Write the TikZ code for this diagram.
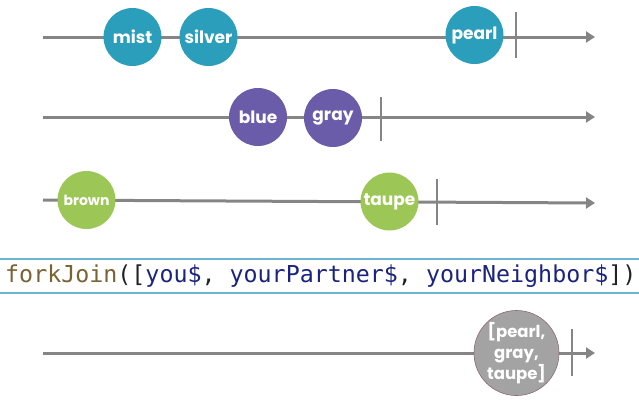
\documentclass[tikz,border=0pt]{standalone}
\usepackage{fontspec}
\setmainfont{Poppins}
\newfontfamily\codefont{DejaVu Sans Mono}
\usetikzlibrary{arrows.meta}
\definecolor{linegray}{HTML}{858585}
\definecolor{mteal}{HTML}{2A9EBB}
\definecolor{mpurple}{HTML}{6A5CA8}
\definecolor{mgreen}{HTML}{9CC655}
\definecolor{mgray}{HTML}{A3A3A3}
\definecolor{mgrayedge}{HTML}{8A6A70}
\definecolor{codeblue}{HTML}{6DB3D3}
\definecolor{fnbrown}{HTML}{7A6232}
\definecolor{argnavy}{HTML}{1A237E}
\definecolor{punct}{HTML}{222222}
\tikzset{
  timeline/.style={draw=linegray, line width=3pt, -{Triangle[length=9pt,width=11pt]}},
  tickmark/.style={draw=linegray, line width=2pt},
  marble/.style={circle, minimum size=58pt, inner sep=0pt, text=white,
    font=\bfseries\fontsize{17}{20}\selectfont},
  rule/.style={draw=codeblue, line width=1.5pt},
}
\begin{document}
\begin{tikzpicture}[x=1pt,y=-1pt]
\useasboundingbox (0,0) rectangle (639,402);
% row 1
\coordinate (s1) at (43,37);
\coordinate (e1) at (595,37);
\draw[timeline] (s1) -- (e1);
\coordinate (t1a) at (516,12);
\coordinate (t1b) at (516,58);
\draw[tickmark] (t1a) -- (t1b);
\node[marble, fill=mteal] (mist) at (132.5,37) {mist};
\node[marble, fill=mteal] (silver) at (208.5,37) {silver};
\node[marble, fill=mteal] (pearl) at (474.5,35) {pearl};
% row 2
\coordinate (s2) at (43,117);
\coordinate (e2) at (595,117);
\draw[timeline] (s2) -- (e2);
\coordinate (t2a) at (381,97);
\coordinate (t2b) at (381,141);
\draw[tickmark] (t2a) -- (t2b);
\node[marble, fill=mpurple] (blue) at (258,117) {blue};
\node[marble, fill=mpurple] (gray) at (333,118) {gray};
% row 3
\coordinate (s3) at (43,200);
\coordinate (e3) at (595,203);
\draw[timeline] (s3) -- (e3);
\coordinate (t3a) at (437,179);
\coordinate (t3b) at (437,225);
\draw[tickmark] (t3a) -- (t3b);
\node[marble, fill=mgreen, font=\bfseries\fontsize{14}{16}\selectfont] (brown) at (86.5,200) {brown};
\node[marble, fill=mgreen] (taupe) at (389.5,201.5) {taupe};
% code line
\coordinate (r1a) at (0,259);
\coordinate (r1b) at (639,259);
\coordinate (r2a) at (0,293);
\coordinate (r2b) at (639,293);
\draw[rule] (r1a) -- (r1b);
\draw[rule] (r2a) -- (r2b);
\node[anchor=west, inner sep=0pt, font=\codefont\fontsize{23.3}{26}\selectfont] (code) at (5,276)
  {\textcolor{fnbrown}{forkJoin}\textcolor{punct}{([}\textcolor{argnavy}{you\$}\textcolor{punct}{, }\textcolor{argnavy}{yourPartner\$}\textcolor{punct}{, }\textcolor{argnavy}{yourNeighbor\$}\textcolor{punct}{])}};
% row 4
\coordinate (s4) at (43,353);
\coordinate (e4) at (595,353);
\draw[timeline] (s4) -- (e4);
\coordinate (t4a) at (572,329);
\coordinate (t4b) at (572,376);
\draw[tickmark] (t4a) -- (t4b);
\node[marble, fill=mgray, draw=mgrayedge, line width=0.6pt, minimum size=82pt, align=center,
  font=\bfseries\fontsize{16.5}{21}\selectfont] (result) at (516.5,353) {[pearl,\\gray,\\taupe]};
\end{tikzpicture}
\end{document}
